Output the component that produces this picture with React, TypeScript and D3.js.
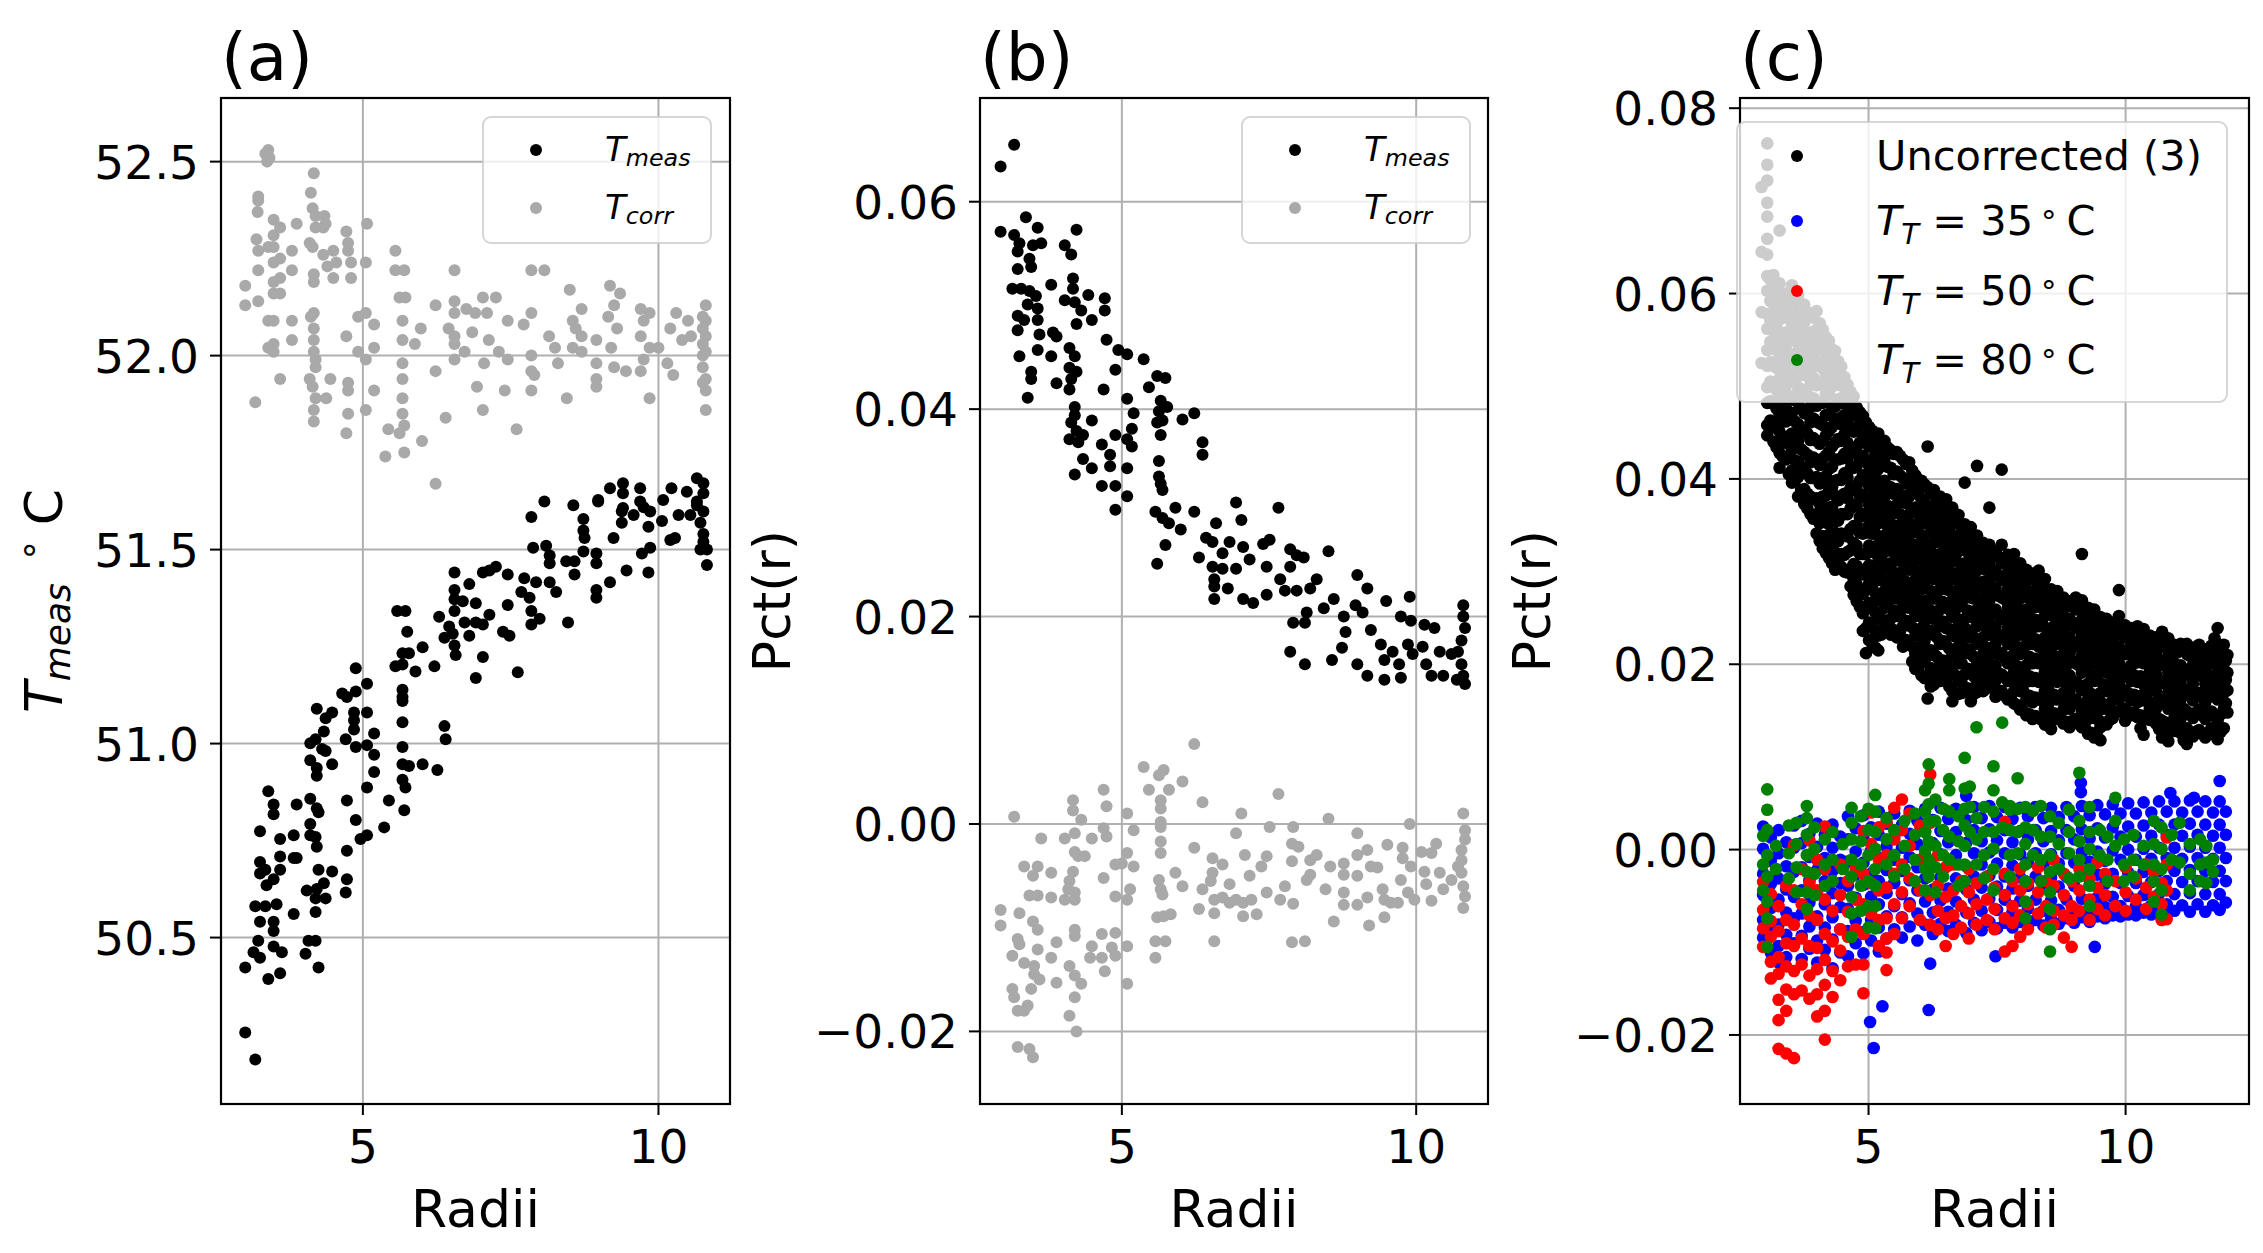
import React from 'react';
import * as d3 from 'd3';

const FONT = '"DejaVu Sans", sans-serif';

// ---------------- data ----------------
// panel (a): temperature vs radius
const tMeas: [number, number][] = [
  [7.85,51.584],[8.07,51.624],[8.56,51.614],[8.98,51.624],[8.73,51.579],[8.73,51.549],[8.75,51.53],[9.38,51.599],[9.38,51.569],[9.58,51.589],
  [9.75,51.609],[9.83,51.559],[10.06,51.574],[10.34,51.589],[10.54,51.589],[10.65,51.614],[10.71,51.569],[10.76,51.54],[10.76,51.52],[10.82,51.5],
  [10.82,51.46],[10.71,51.5],[10.2,51.525],[10.28,51.53],[9.86,51.505],[9.72,51.49],[9.83,51.441],[9.46,51.446],[9.18,51.416],[9.24,51.53],
  [8.95,51.49],[8.95,51.465],[8.73,51.495],[8.95,51.396],[8.95,51.376],[8.58,51.436],[8.44,51.47],[8.58,51.47],[8.16,51.485],[8.16,51.465],
  [8.1,51.51],[7.88,51.505],[8.27,51.391],[8.16,51.416],[7.93,51.416],[7.73,51.426],[7.68,51.391],[7.82,51.376],[7.85,51.342],[7.99,51.322],
  [7.85,51.307],[8.47,51.312],[7.62,51.184],[7.45,51.436],[7.45,51.357],[7.37,51.288],[7.48,51.278],[7.25,51.456],[7.03,51.441],[7.14,51.446],
  [6.8,51.411],[6.91,51.362],[6.91,51.312],[7.03,51.307],[7.14,51.332],[6.8,51.278],[7.03,51.223],[6.91,51.169],[6.55,51.441],[6.55,51.396],
  [6.55,51.372],[6.55,51.342],[6.69,51.367],[6.72,51.312],[6.29,51.327],[6.46,51.302],[6.52,51.283],[6.38,51.273],[6.55,51.253],[6.57,51.228],
  [6.01,51.248],[5.75,51.288],[5.58,51.342],[5.72,51.342],[5.67,51.233],[5.78,51.233],[5.55,51.199],[5.67,51.204],[5.89,51.186],[6.21,51.199],
  [5.67,51.139],[5.67,51.12],[5.67,51.11],[5.67,51.055],[5.67,50.991],[5.67,50.947],[5.78,50.942],[6.01,50.947],[6.26,50.932],[5.67,50.907],
  [5.72,50.887],[5.44,50.853],[5.7,50.828],[5.36,50.784],[6.38,51.045],[6.4,51.011],[4.88,51.194],[5.07,51.154],[4.88,51.134],[4.65,51.129],
  [4.73,51.12],[5.07,51.08],[4.85,51.08],[4.85,51.06],[4.85,51.036],[5.19,51.026],[5.07,50.996],[4.88,50.991],[5.19,50.971],[5.19,50.927],
  [5.07,50.887],[4.71,51.011],[4.48,51.08],[4.37,51.065],[4.22,51.09],[4.34,51.031],[4.2,51.011],[4.11,51.001],[4.31,50.986],[4.37,50.981],
  [4.11,50.957],[4.22,50.937],[4.22,50.917],[4.48,50.947],[4.73,50.853],[4.88,50.803],[4.96,50.754],[5.07,50.764],[4.73,50.724],[3.4,50.877],
  [3.49,50.843],[3.49,50.818],[3.88,50.843],[4.11,50.858],[4.22,50.833],[4.25,50.823],[4.11,50.793],[4.11,50.764],[4.2,50.759],[4.22,50.734],
  [3.26,50.774],[3.6,50.754],[3.83,50.764],[3.6,50.709],[3.83,50.705],[3.88,50.705],[3.26,50.695],[3.35,50.675],[3.6,50.675],[3.49,50.65],
  [3.37,50.635],[3.26,50.665],[4.25,50.675],[4.48,50.67],[4.34,50.64],[4.73,50.65],[4.71,50.616],[4.05,50.621],[4.22,50.625],[4.2,50.601],
  [4.37,50.601],[4.2,50.566],[4.2,50.492],[4.08,50.492],[4.03,50.458],[4.25,50.423],[3.18,50.581],[3.35,50.581],[3.26,50.541],[3.49,50.541],
  [3.49,50.517],[3.54,50.586],[3.83,50.561],[3.23,50.492],[3.49,50.477],[3.63,50.462],[3.15,50.462],[3.26,50.448],[3.01,50.423],[3.4,50.393],
  [3.6,50.408],[3.01,50.255],[3.18,50.186],[8.98,51.628],[9.18,51.658],[9.4,51.671],[9.4,51.645],[9.4,51.607],[9.69,51.658],[9.69,51.624],
  [9.86,51.598],[10.08,51.628],[10.22,51.658],[10.48,51.649],[10.65,51.684],[10.76,51.671],[10.76,51.645],[10.65,51.624],[10.76,51.598],
];

const tCorr: [number, number][] = [
  [3.01,52.18],[3.01,52.13],[3.18,51.88],[3.23,52.41],[3.23,52.4],[3.22,52.37],[3.23,52.27],[3.23,52.22],[3.23,52.14],[3.2,52.3],
  [3.35,52.52],[3.4,52.53],[3.42,52.51],[3.38,52.5],[3.4,52.28],[3.4,52.09],[3.4,52.02],[3.49,52.35],[3.49,52.31],[3.49,52.28],
  [3.49,52.24],[3.49,52.19],[3.49,52.16],[3.49,52.09],[3.49,52.03],[3.49,52.01],[3.6,52.33],[3.6,52.25],[3.6,52.2],[3.6,52.16],
  [3.6,51.94],[3.8,52.27],[3.8,52.22],[3.8,52.09],[3.8,52.04],[3.88,52.34],[4.17,52.47],[4.12,52.42],[4.15,52.38],[4.2,52.36],
  [4.2,52.33],[4.1,52.29],[4.15,52.28],[4.17,52.21],[4.17,52.19],[4.17,52.11],[4.12,52.1],[4.17,52.07],[4.17,52.04],[4.17,52.01],
  [4.2,51.99],[4.2,51.97],[4.1,51.94],[4.15,51.92],[4.2,51.89],[4.17,51.86],[4.17,51.83],[4.35,52.36],[4.37,52.34],[4.33,52.33],
  [4.33,52.26],[4.4,52.23],[4.45,51.94],[4.38,51.89],[4.5,52.27],[4.55,52.24],[4.5,52.2],[4.72,52.32],[4.75,52.29],[4.75,52.27],
  [4.8,52.24],[4.8,52.2],[4.72,52.05],[4.75,51.93],[4.75,51.91],[4.75,51.85],[4.72,51.8],[5.07,52.34],[5.05,52.24],[5.05,52.11],
  [4.92,52.1],[4.92,52.01],[5.05,51.99],[5.05,51.86],[5.19,52.08],[5.19,52.02],[5.19,51.91],[5.43,51.81],[5.38,51.74],[5.55,52.27],
  [5.55,52.22],[5.7,52.22],[5.62,52.15],[5.72,52.15],[5.67,52.09],[5.67,52.04],[5.67,51.98],[5.67,51.94],[5.67,51.89],[5.67,51.85],
  [5.7,51.82],[5.62,51.8],[5.7,51.75],[5.98,52.07],[5.88,52.03],[6.0,51.78],[6.23,52.13],[6.23,51.96],[6.23,51.67],[6.55,52.22],
  [6.55,52.14],[6.55,52.11],[6.45,52.07],[6.55,52.05],[6.55,52.03],[6.55,51.99],[6.4,51.84],[6.75,52.12],[6.9,52.11],[6.85,52.06],
  [6.72,52.01],[6.93,51.92],[7.03,52.15],[7.25,52.15],[7.1,52.11],[7.13,52.04],[7.05,51.98],[7.03,51.86],[7.45,52.09],[7.3,52.01],
  [7.45,51.99],[7.4,51.91],[7.85,52.22],[7.85,52.11],[7.72,52.08],[7.85,52.0],[7.85,51.96],[7.9,51.95],[7.85,51.91],[7.6,51.81],
  [8.07,52.22],[8.15,52.05],[8.25,52.02],[8.3,51.98],[8.5,52.17],[8.7,52.12],[8.55,52.09],[8.6,52.07],[8.7,52.05],[8.55,52.02],
  [8.7,52.01],[8.45,51.89],[8.95,52.04],[8.95,51.98],[8.95,51.94],[8.95,51.92],[9.18,52.18],[9.35,52.16],[9.25,52.13],[9.15,52.1],
  [9.3,52.07],[9.2,52.02],[9.25,51.97],[9.45,51.96],[9.7,52.12],[9.85,52.11],[9.75,52.09],[9.7,52.05],[9.85,52.02],[9.75,51.99],
  [9.7,51.96],[9.85,51.89],[10.3,52.11],[10.2,52.07],[10.0,52.02],[10.15,51.98],[10.25,51.95],[10.5,52.09],[10.55,52.05],[10.4,52.04],
  [10.8,52.13],[10.75,52.1],[10.8,52.09],[10.75,52.07],[10.8,52.05],[10.75,52.03],[10.8,52.01],[10.75,52.0],[10.75,51.97],[10.8,51.94],
  [10.75,51.93],[10.8,51.91],[10.8,51.86],
];

// panel (b): Pct(r) vs radius
const pctMeas: [number, number][] = [
  [2.94,.0634],[3.17,.0655],[2.94,.0571],[3.37,.0585],[3.57,.0575],[3.17,.0568],[3.26,.056],[3.23,.0552],[3.49,.0558],[3.63,.056],
  [3.43,.0545],[3.46,.0537],[3.23,.0535],[3.14,.0516],[3.29,.0516],[3.43,.0514],[3.54,.0509],[3.8,.052],[3.4,.0501],[3.57,.0497],
  [3.23,.049],[3.34,.0486],[3.57,.0486],[3.23,.0476],[3.6,.0472],[3.83,.0474],[3.89,.047],[3.26,.0451],[3.57,.0457],[3.8,.0451],
  [3.46,.0436],[3.46,.0429],[3.89,.0425],[3.4,.0411],[4.23,.0573],[4.03,.0558],[4.14,.0549],[4.17,.0526],[4.17,.0516],[4.03,.0505],
  [4.2,.0503],[4.31,.0495],[4.43,.051],[4.49,.0486],[4.23,.0482],[4.71,.0507],[4.71,.0495],[4.74,.0467],[4.94,.0457],[5.09,.0453],
  [4.11,.0459],[4.2,.0451],[4.11,.044],[4.23,.0436],[4.14,.0429],[4.11,.0419],[4.89,.0438],[4.69,.0419],[5.37,.0448],[5.6,.0432],
  [5.74,.043],[5.46,.0421],[5.66,.0408],[5.77,.0402],[5.63,.0398],[5.69,.0389],[5.09,.041],[5.2,.0396],[4.2,.0402],[4.2,.0394],
  [4.14,.0387],[4.49,.0389],[6.03,.039],[6.23,.0396],[4.23,.0379],[4.11,.0371],[4.34,.0375],[4.26,.0368],[4.66,.0366],[4.89,.0375],
  [5.09,.0371],[5.17,.0381],[5.17,.0364],[4.8,.0356],[4.8,.0345],[4.34,.0352],[4.49,.0343],[5.09,.0343],[4.2,.0337],[4.66,.0326],
  [4.89,.0326],[5.09,.0316],[4.89,.0303],[5.6,.0387],[5.66,.0375],[5.63,.035],[5.63,.0335],[5.66,.0328],[5.69,.0322],[6.37,.0368],
  [6.37,.0356],[5.57,.0301],[5.69,.0295],[5.91,.0305],[5.8,.029],[6.0,.0284],[6.23,.0301],[5.74,.0269],[5.6,.0251],[6.94,.031],
  [7.03,.0293],[7.66,.0305],[6.6,.029],[6.43,.0276],[6.54,.0272],[6.83,.0272],[6.71,.0261],[7.06,.0267],[7.17,.0255],[7.4,.027],
  [7.51,.0274],[6.31,.0257],[6.54,.0248],[6.71,.0246],[6.94,.0246],[7.46,.0248],[6.57,.0236],[6.57,.0229],[6.8,.0227],[6.57,.0217],
  [7.06,.0217],[7.23,.0213],[7.46,.0221],[7.69,.0236],[7.86,.0265],[7.97,.0259],[8.09,.0257],[7.86,.0248],[7.77,.0225],[7.97,.0225],
  [8.2,.0227],[8.31,.0236],[8.51,.0263],[8.14,.0204],[7.91,.0194],[8.11,.0194],[8.43,.0208],[8.6,.0217],[8.77,.02],[9.0,.024],
  [9.17,.0227],[8.97,.0211],[9.09,.0204],[8.8,.0185],[8.74,.017],[9.23,.0187],[9.49,.0215],[9.89,.0219],[9.74,.02],[9.91,.0196],
  [10.14,.0192],[10.31,.0189],[7.86,.0166],[8.11,.0154],[8.57,.0158],[9.0,.0154],[9.17,.0143],[9.4,.0173],[9.46,.0158],[9.46,.0139],
  [9.6,.0166],[9.71,.0154],[9.74,.0141],[9.86,.0173],[9.94,.0164],[10.11,.0171],[10.17,.0154],[10.26,.0143],[10.46,.0143],[10.4,.0166],
  [10.6,.0164],[10.8,.0211],[10.8,.02],[10.83,.0189],[10.77,.0177],[10.71,.0166],[10.77,.0154],[10.8,.0143],[10.83,.0135],[10.69,.0139],
];

const pctCorr: [number, number][] = [
  [3.17,.0007],[2.94,-.0083],[2.94,-.0098],[3.26,-.0086],[3.49,-.0094],[3.57,-.0102],[3.23,-.0111],[3.26,-.0116],[3.14,-.0127],[3.34,-.0134],
  [3.57,-.0121],[3.51,-.0137],[3.51,-.0145],[3.6,-.015],[3.46,-.0159],[3.14,-.0159],[3.17,-.0167],[3.23,-.018],[3.34,-.018],[3.4,-.0175],
  [3.89,-.0114],[3.8,-.0129],[3.89,-.0153],[3.63,-.0014],[3.34,-.0041],[3.57,-.0041],[3.49,-.005],[3.8,-.0047],[3.43,-.0069],[3.57,-.0069],
  [3.8,-.0071],[4.03,-.0073],[4.2,-.0073],[4.17,.0023],[4.17,.0013],[4.31,.0004],[4.03,-.0014],[4.2,-.0009],[4.2,-.0027],[4.26,-.0031],
  [4.37,-.0031],[4.49,-.0014],[4.17,-.0046],[4.11,-.0055],[4.09,-.0063],[4.2,-.0066],[4.69,.0033],[4.74,.0017],[4.69,-.0004],[4.74,-.0012],
  [4.69,-.0052],[4.2,-.0102],[4.2,-.0108],[4.49,-.0118],[4.46,-.0129],[4.66,-.0129],[4.66,-.0106],[4.89,-.0105],[4.83,-.0119],[4.89,-.0127],
  [4.71,-.0142],[4.11,-.0137],[4.2,-.0146],[4.31,-.0154],[4.2,-.0167],[4.11,-.0185],[4.23,-.02],[3.23,-.0215],[3.43,-.0217],[3.49,-.0225],
  [5.09,.001],[5.2,-.0006],[5.09,-.0028],[4.89,-.0039],[5.0,-.0038],[5.2,-.0041],[4.89,-.007],[5.09,-.0073],[5.14,-.0063],[5.09,-.0118],
  [5.09,-.0154],[5.37,.0055],[5.46,.0033],[5.63,.0047],[5.71,.0052],[5.8,.0033],[5.66,.0023],[5.66,.0015],[5.66,.0002],[5.66,-.0003],
  [5.66,-.0017],[5.66,-.0028],[5.63,-.0054],[5.66,-.0063],[5.69,-.0068],[5.91,-.0047],[6.03,-.006],[5.6,-.009],[5.71,-.0089],[5.83,-.0087],
  [5.57,-.0113],[5.74,-.0113],[5.57,-.0129],[6.23,.0077],[6.03,.0041],[6.37,.0021],[6.23,-.0023],[6.54,-.0033],[6.71,-.0039],[6.54,-.0047],
  [6.51,-.0055],[6.37,-.0063],[6.31,-.0082],[6.57,-.0073],[6.57,-.0086],[6.71,-.0071],[6.83,-.0058],[6.94,-.0073],[7.06,-.0076],[7.06,-.0089],
  [6.83,-.0076],[7.2,-.0073],[7.29,-.0087],[6.57,-.0113],[6.94,-.0009],[7.03,.001],[7.09,-.003],[7.17,-.005],[7.37,-.0041],[7.46,-.0031],
  [7.46,-.0066],[7.69,-.0073],[7.77,-.006],[7.91,-.0077],[7.51,-.0003],[7.66,.0029],[7.91,-.0003],[7.89,-.0019],[8.0,-.0022],[7.89,-.0036],
  [8.2,-.0035],[8.31,-.003],[8.14,-.0054],[8.2,-.0049],[8.46,-.0063],[8.54,-.0041],[8.77,-.0038],[8.77,-.0049],[8.77,-.0066],[8.77,-.0078],
  [9.0,-.0009],[9.0,-.003],[9.0,-.005],[9.0,-.0078],[8.51,.0005],[8.6,-.0094],[9.17,-.0025],[9.23,-.0041],[9.34,-.0042],[9.17,-.0071],
  [9.2,-.0098],[7.89,-.0114],[8.11,-.0113],[9.51,-.002],[9.43,-.0063],[9.46,-.0073],[9.46,-.009],[9.57,-.0076],[9.74,-.0054],[9.77,-.0023],
  [9.77,-.0033],[9.91,-.0041],[9.86,-.0066],[9.69,-.0076],[9.89,.0],[9.97,-.0073],[10.09,-.0027],[10.14,-.0046],[10.17,-.0058],[10.26,-.0028],
  [10.34,-.0019],[10.4,-.0047],[10.26,-.0074],[10.46,-.0063],[10.6,-.0054],[10.71,-.0041],[10.8,.001],[10.83,-.0006],[10.83,-.0015],[10.77,-.0025],
  [10.77,-.0035],[10.77,-.0047],[10.8,-.006],[10.83,-.007],[10.8,-.0081],
];

// panel (c): each entry is [radius, Pct(r) values measured at that radius]
const uncorrected: [number, number[]][] = [
  [2.92,[.0715,.0645,.058,.0525]],
  [3.03,[.0762,.0739,.0722,.0698,.0683,.0659,.0642,.0619,.0603,.0578,.0562,.0539,.0522,.0499,.0482,.0458,.0447]],
  [3.15,[.062,.0598,.0581,.0559,.054,.0522,.0499,.0481,.0458,.044]],
  [3.27,[.0668,.0611,.0589,.0572,.0549,.0531,.0508,.0492,.0469,.0451,.0428,.0412]],
  [3.39,[.06,.0582,.0558,.0541,.0519,.05,.0478,.0462,.0439,.0421]],
  [3.51,[.0609,.0589,.0568,.0551,.0528,.0511,.0489,.0471,.0449,.0432,.0409,.0396]],
  [3.63,[.0598,.0579,.0562,.0538,.0521,.0499,.0482,.0459,.0441,.0418,.0402,.0381]],
  [3.75,[.0588,.0569,.0551,.0529,.0512,.0489,.0471,.0452,.0429,.0411,.0389,.0373]],
  [3.87,[.0579,.0558,.0541,.0519,.0502,.0478,.0461,.0442,.0418,.0401,.0381,.0362]],
  [3.99,[.0581,.0561,.0539,.0522,.0501,.0479,.0462,.0441,.0419,.0402,.0379,.0362,.0341]],
  [4.11,[.0561,.0542,.0519,.0501,.0482,.0458,.0441,.0422,.0399,.0381,.0362,.0338,.0325]],
  [4.23,[.0549,.0531,.0508,.0491,.0469,.0452,.0429,.0411,.0391,.0369,.0351,.0332,.0315]],
  [4.35,[.0538,.0519,.0501,.0478,.0462,.0439,.0421,.0398,.0382,.0361,.0339,.0321,.0302]],
  [4.47,[.0521,.0501,.0482,.0459,.0441,.0422,.0399,.0381,.0362,.0341,.0319,.0305]],
  [4.59,[.0502,.0481,.0462,.0439,.0422,.0401,.0379,.0362,.0338,.0321,.0299]],
  [4.71,[.0489,.0469,.0451,.0429,.0412,.0388,.0372,.0349,.0331,.0308,.0292,.0275]],
  [4.83,[.0472,.0458,.0439,.0421,.0398,.0382,.0359,.0342,.0319,.0301,.0279,.0262]],
  [4.95,[.0461,.0441,.0419,.0402,.0379,.0361,.0342,.0319,.0301,.0281,.0262,.0239,.0212]],
  [5.07,[.0452,.0438,.0418,.0399,.0381,.0358,.0341,.0322,.0299,.0282,.0261,.0242,.0222]],
  [5.19,[.0449,.0429,.0411,.0389,.0371,.0352,.0329,.0311,.0291,.0269,.0252,.0231,.0215]],
  [5.31,[.0441,.0422,.0398,.0381,.0362,.0339,.0321,.0302,.0279,.0261,.0242]],
  [5.43,[.0431,.0412,.0391,.0369,.0352,.0331,.0309,.0291,.0272,.0249,.0232]],
  [5.55,[.0429,.0408,.0389,.0372,.0349,.0331,.0312,.0289,.0271,.0252,.0229]],
  [5.67,[.0421,.0401,.0382,.0359,.0341,.0322,.0301,.0279,.0262,.0241,.0219]],
  [5.79,[.0418,.0399,.0381,.0362,.0339,.0321,.0302,.0278,.0261,.0242,.0221]],
  [5.91,[.0404,.0389,.0369,.0351,.0329,.0312,.0291,.0269,.0252,.0231,.0211,.0195]],
  [6.03,[.0398,.0378,.0361,.0339,.0322,.0299,.0281,.0262,.0239,.0221,.0202,.0188]],
  [6.15,[.0435,.0391,.0371,.0352,.0329,.0311,.0292,.0269,.0251,.0232,.0209,.0188,.0163]],
  [6.27,[.0388,.0369,.0348,.0331,.0309,.0292,.0271,.0249,.0232,.0211,.0192,.0178]],
  [6.39,[.0381,.0362,.0341,.0319,.0302,.0281,.0259,.0241,.0222,.0199,.0182]],
  [6.51,[.0378,.0358,.0339,.0321,.0298,.0281,.0262,.0239,.0221,.0201,.0185]],
  [6.63,[.0369,.0351,.0329,.0311,.0292,.0269,.0251,.0232,.0209,.0191,.0171,.016]],
  [6.75,[.0361,.0339,.0322,.0299,.0281,.0262,.0241,.0219,.0201,.0182,.0168]],
  [6.87,[.0396,.0351,.0331,.0309,.0291,.0272,.0249,.0231,.0212,.0189,.0171]],
  [6.99,[.0348,.0329,.0311,.0289,.0272,.0251,.0229,.0211,.0192,.0171,.016]],
  [7.11,[.0414,.0339,.0319,.0301,.0282,.0259,.0241,.0222,.0199,.0181,.017]],
  [7.23,[.0331,.0312,.0289,.0271,.0252,.0229,.0211,.0192,.0171]],
  [7.35,[.0369,.0329,.0309,.0291,.0269,.0251,.0232,.0209,.0191]],
  [7.47,[.0322,.0301,.0282,.0259,.0241,.0222,.0199,.0182,.0165]],
  [7.59,[.041,.0329,.0309,.0291,.0272,.0249,.0231,.0212,.0189,.0171]],
  [7.71,[.0318,.0299,.0281,.0261,.0239,.0222,.0201,.0182,.0162]],
  [7.83,[.0319,.0291,.0271,.0252,.0229,.0211,.0192,.0171,.0158]],
  [7.95,[.0309,.0289,.0271,.0249,.0232,.0211,.0189,.0171,.0151]],
  [8.07,[.0302,.0281,.0259,.0242,.0221,.0199,.0181,.0162,.0145]],
  [8.19,[.0298,.0278,.0261,.0239,.0222,.0201,.0182,.0159,.0141]],
  [8.31,[.0301,.0279,.0262,.0241,.0219,.0201,.0181,.0162,.0142]],
  [8.43,[.0292,.0271,.0252,.0229,.0211,.0192,.0171,.0152,.0135]],
  [8.55,[.0281,.0262,.0239,.0221,.0202,.0181,.0161,.0142,.013]],
  [8.67,[.0279,.0258,.0241,.0222,.0199,.0181,.0162,.0141]],
  [8.79,[.0272,.0251,.0232,.0211,.0192,.0169,.0151,.0136]],
  [8.91,[.0268,.0249,.0229,.0211,.0188,.0171,.0152,.0132]],
  [9.03,[.0272,.0259,.0239,.0219,.0201,.0181,.0162,.0141]],
  [9.15,[.0319,.0269,.0248,.0231,.0209,.0191,.0172,.0149,.0132]],
  [9.27,[.0261,.0242,.0221,.0202,.0179,.0162,.0141,.0125]],
  [9.39,[.0259,.0238,.0219,.0201,.0182,.0159,.0142,.0121]],
  [9.51,[.0251,.0232,.0211,.0192,.0169,.0151,.0132,.0118]],
  [9.63,[.0249,.0228,.0209,.0191,.0171,.0152,.0135]],
  [9.75,[.0241,.0222,.0201,.0182,.0161,.0142]],
  [9.87,[.028,.0252,.0239,.0219,.0201,.0181,.0162,.0149]],
  [9.99,[.0242,.0229,.0211,.0189,.0171,.0152,.0139]],
  [10.11,[.0239,.0221,.0199,.0182,.0161,.0145]],
  [10.23,[.0241,.0219,.0202,.0181,.0159,.0143]],
  [10.35,[.0238,.0219,.0201,.0178,.0161,.0141,.0124]],
  [10.47,[.0231,.0211,.0192,.0171,.0152,.014]],
  [10.59,[.0229,.0212,.0189,.0171,.0152,.0136]],
  [10.71,[.0235,.0219,.0199,.0181,.0161,.0139,.0121]],
  [10.83,[.0228,.0209,.0191,.0169,.0152,.0132,.0117]],
  [10.95,[.0221,.0201,.0182,.0161,.0142,.0128]],
  [11.07,[.0222,.0199,.0181,.0162,.0141,.0126]],
  [11.19,[.0222,.0211,.0192,.0171,.0149,.0131,.0114]],
  [11.31,[.0218,.0199,.0179,.0161,.0142,.0122]],
  [11.43,[.0221,.0202,.0189,.0169,.0151,.0129]],
  [11.55,[.0216,.0198,.0179,.0159,.0141,.0121]],
  [11.67,[.022,.0201,.0182,.0171,.0149,.0131]],
  [11.79,[.0239,.0222,.0199,.0181,.0162,.0139,.0119]],
  [11.91,[.0221,.0201,.0189,.0169,.0152,.0131]],
  [11.98,[.021,.0191,.0172,.0148]],
];

// radii between the columns above (the cloud is measured on a finer radius grid)
const uncorrectedMid: [number, number[]][] = [
  [3.09,[.0615,.0592,.0571,.0548,.0526,.0505,.0484,.0463]],
  [3.21,[.0605,.0584,.0563,.0543,.052,.0496,.0476,.0455,.0434]],
  [3.33,[.0595,.0574,.0553,.0531,.0509,.0487,.0466,.0445,.0424]],
  [3.45,[.0596,.0574,.0555,.0533,.0513,.0488,.0468,.0446,.0425,.0405]],
  [3.57,[.0593,.0571,.0549,.0527,.0505,.0485,.0462,.0441,.042,.0398]],
  [3.69,[.0584,.056,.0539,.0518,.0496,.0476,.0453,.0432,.041,.0388]],
  [3.81,[.0576,.0555,.0534,.0512,.0491,.047,.0449,.0426,.0406,.0384,.0368]],
  [3.93,[.0574,.0552,.0531,.0509,.0487,.0465,.0444,.0423,.0401,.0378,.0357]],
  [4.05,[.0568,.0546,.0525,.0503,.0482,.046,.0438,.0415,.0395,.0373,.0352,.0333]],
  [4.17,[.0553,.0534,.0512,.0491,.0469,.0447,.0425,.0403,.0382,.0361,.0338,.032]],
  [4.29,[.054,.0522,.05,.0478,.0456,.0435,.0413,.0391,.037,.0347,.0327,.0309]],
  [4.41,[.0527,.0507,.0486,.0465,.0443,.0421,.0399,.0377,.0355,.0333,.0312]],
  [4.53,[.051,.049,.0469,.0448,.0427,.0406,.0384,.0362,.034,.0318,.03]],
  [4.65,[.0494,.0474,.0453,.0432,.0411,.039,.0368,.0346,.0323,.0303,.0284]],
  [4.77,[.0477,.0456,.0435,.0414,.0393,.0371,.035,.0328,.0306,.0286,.0268]],
  [4.89,[.0468,.0446,.0425,.0404,.0383,.0362,.0341,.0319,.0297,.0276,.0255,.0236]],
  [5.01,[.0456,.0435,.0414,.0393,.0372,.035,.0328,.0307,.0287,.0266,.0245,.0226]],
  [5.13,[.0447,.0426,.0405,.0384,.0362,.0341,.032,.0299,.0277,.0256,.0236,.0218]],
  [5.25,[.0439,.0418,.0396,.0375,.0354,.0333,.0312,.0291,.0269,.0249,.0232]],
  [5.37,[.0434,.0413,.0392,.0371,.0349,.0328,.0307,.0286,.0265,.0245]],
  [5.49,[.0427,.0405,.0384,.0363,.0342,.0321,.0299,.0278,.0258,.0237]],
  [5.61,[.0425,.0404,.0383,.0362,.0341,.032,.0298,.0277,.0256,.0235]],
  [5.73,[.0416,.0395,.0374,.0353,.0332,.0311,.0289,.0268,.0247,.0226]],
  [5.85,[.0409,.0388,.0367,.0346,.0325,.0304,.0283,.0261,.024,.0219,.0203]],
  [5.97,[.0399,.0384,.0363,.0342,.0321,.03,.0279,.0257,.0236,.0215,.0196]],
  [6.09,[.0394,.0373,.0352,.0331,.031,.0289,.0268,.0246,.0225,.0204,.0185]],
  [6.21,[.0384,.0363,.0342,.0321,.03,.0279,.0258,.0236,.0215,.0196,.0176]],
  [6.33,[.0376,.0355,.0334,.0313,.0292,.0271,.025,.0229,.0208,.0188]],
  [6.45,[.0372,.0351,.033,.0309,.0288,.0267,.0246,.0225,.0204,.0188]],
  [6.57,[.0364,.0343,.0322,.0301,.028,.0259,.0238,.0217,.0196,.0176]],
  [6.69,[.0356,.0335,.0314,.0293,.0272,.0251,.023,.0209,.0188,.0168]],
  [6.81,[.0348,.0327,.0306,.0285,.0264,.0243,.0222,.0201,.018,.0169]],
  [6.93,[.0342,.0321,.03,.0279,.0258,.0237,.0216,.0195,.0174]],
  [7.05,[.0334,.0313,.0292,.0271,.025,.0229,.0208,.0187,.0168]],
  [7.17,[.0328,.0307,.0286,.0265,.0244,.0223,.0202,.0181]],
  [7.29,[.0323,.0302,.0281,.026,.0239,.0218,.0197,.0182]],
  [7.41,[.0318,.0297,.0276,.0255,.0234,.0213,.0192,.0174]],
  [7.53,[.0316,.0295,.0274,.0253,.0232,.0211,.019,.0171]],
  [7.65,[.0312,.0291,.027,.0249,.0228,.0207,.0186,.0166]],
  [7.77,[.0309,.0288,.0267,.0246,.0225,.0204,.0183,.0163]],
  [7.89,[.0303,.0282,.0261,.024,.0219,.0198,.0177,.0156]],
  [8.01,[.0297,.0276,.0255,.0234,.0213,.0192,.0171,.015]],
  [8.13,[.0292,.0271,.025,.0229,.0208,.0187,.0166,.0146]],
  [8.25,[.029,.0269,.0248,.0227,.0206,.0185,.0164,.0144]],
  [8.37,[.0287,.0266,.0245,.0224,.0203,.0182,.0161,.014]],
  [8.49,[.0279,.0258,.0237,.0216,.0195,.0174,.0153,.0134]],
  [8.61,[.0272,.0251,.023,.0209,.0188,.0167,.0147]],
  [8.73,[.0268,.0247,.0226,.0205,.0184,.0163,.0142]],
  [8.85,[.0262,.0241,.022,.0199,.0178,.0157,.0138]],
  [8.97,[.0263,.0245,.0224,.0203,.0182,.0161,.0139]],
  [9.09,[.0262,.0241,.022,.0199,.0178,.0157,.0136]],
  [9.21,[.0257,.0236,.0215,.0194,.0173,.0152,.0131]],
  [9.33,[.0252,.0231,.021,.0189,.0168,.0147,.0126]],
  [9.45,[.0246,.0225,.0204,.0183,.0162,.0141,.0122]],
  [9.57,[.0241,.022,.0199,.0178,.0157,.0137]],
  [9.69,[.0238,.0217,.0196,.0175,.0154,.014]],
  [9.81,[.0246,.0231,.021,.0189,.0168,.0148]],
  [9.93,[.0236,.0215,.0194,.0173,.0152]],
  [10.05,[.0232,.0211,.019,.0169,.0148]],
  [10.17,[.023,.0209,.0188,.0167,.0148]],
  [10.29,[.0229,.0208,.0187,.0166,.0145,.0131]],
  [10.41,[.0224,.0203,.0182,.0161,.0141]],
  [10.53,[.0221,.02,.0179,.0158,.014]],
  [10.65,[.0225,.0204,.0183,.0162,.0141,.013]],
  [10.77,[.0221,.02,.0179,.0158,.0137,.0122]],
  [10.89,[.0216,.0195,.0174,.0153,.0132]],
  [11.01,[.0213,.0192,.0171,.015,.013]],
  [11.13,[.0215,.0194,.0173,.0152,.0131,.0118]],
  [11.25,[.0209,.0188,.0167,.0146,.0126]],
  [11.37,[.0211,.019,.0169,.0148,.0127]],
  [11.49,[.0208,.0187,.0166,.0145,.0125]],
  [11.61,[.021,.0189,.0168,.0147,.0126]],
  [11.73,[.0228,.0209,.0188,.0165,.0144,.0124]],
  [11.85,[.0212,.0191,.0172,.0146,.0127]],
  [11.95,[.0204,.0183,.0158]],
];

const tt35: [number, number[]][] = [
  [2.95,[.0025,.0001,-.0026,-.0049,-.0076,-.0095]],
  [3.1,[.0013,-.0012,-.0037,-.0063,-.0087,-.0111]],
  [3.25,[.0021,-.0004,-.0031,-.0054,-.0081,-.0104,-.0122]],
  [3.4,[.0008,-.0018,-.0043,-.0068,-.0092,-.0116]],
  [3.55,[.0026,.0002,-.0024,-.0051,-.0074,-.0101]],
  [3.7,[.0031,.0007,-.0019,-.0044,-.0069,-.0093,-.0118]],
  [3.85,[.0017,-.0008,-.0033,-.0057,-.0083,-.0107]],
  [4.0,[.0028,.0003,-.0022,-.0048,-.0072,-.0098,-.0122]],
  [4.15,[.0016,-.0009,-.0034,-.0059,-.0084,-.0108]],
  [4.3,[.0027,.0002,-.0023,-.0047,-.0073,-.0097,-.0128]],
  [4.45,[.0014,-.0011,-.0036,-.0062,-.0086,-.0111]],
  [4.6,[.0036,.0011,-.0013,-.0039,-.0064,-.0088,-.0115]],
  [4.75,[.0023,-.0002,-.0027,-.0052,-.0077,-.0101]],
  [4.9,[.0037,.0012,-.0014,-.0038,-.0063,-.0089,-.0112]],
  [5.03,[-.0186]],
  [5.05,[.0024,-.0001,-.0026,-.0051,-.0076,-.0098]],
  [5.1,[-.0214]],
  [5.2,[.0041,.0016,-.0009,-.0034,-.0059,-.0084,-.011]],
  [5.27,[-.0169]],
  [5.35,[.0028,.0003,-.0022,-.0047,-.0072,-.0096]],
  [5.5,[.0039,.0014,-.0011,-.0036,-.0061,-.0086]],
  [5.65,[.0027,.0002,-.0023,-.0048,-.0073,-.0095]],
  [5.8,[.0042,.0017,-.0008,-.0033,-.0058,-.0083]],
  [5.95,[.0031,.0006,-.0019,-.0044,-.0069,-.0098]],
  [6.1,[.0044,.0019,-.0006,-.0031,-.0056,-.0081]],
  [6.17,[-.0173]],
  [6.2,[-.0123]],
  [6.25,[.0032,.0007,-.0018,-.0043,-.0068,-.0091]],
  [6.4,[.0045,.002,-.0005,-.003,-.0055,-.008]],
  [6.55,[.0033,.0008,-.0017,-.0042,-.0067,-.0088]],
  [6.7,[.0044,.0019,-.0006,-.0031,-.0056,-.0081]],
  [6.9,[.0058,.0032,.0007,-.0018,-.0043,-.0068,-.009]],
  [7.05,[.0046,.0021,-.0004,-.0029,-.0054,-.0079]],
  [7.2,[.0034,.0009,-.0016,-.0041,-.0066,-.0087]],
  [7.35,[.0047,.0022,-.0003,-.0028,-.0053,-.0078]],
  [7.47,[-.0115]],
  [7.5,[.0035,.001,-.0015,-.004,-.0065,-.0085]],
  [7.65,[.0046,.0021,-.0004,-.0029,-.0054,-.0079]],
  [7.8,[.0033,.0008,-.0017,-.0042,-.0067,-.0084]],
  [7.95,[.0045,.002,-.0005,-.003,-.0055,-.0078]],
  [8.1,[.0036,.0011,-.0014,-.0039,-.0064,-.0083]],
  [8.25,[.0046,.0021,-.0004,-.0029,-.0054,-.0076]],
  [8.4,[.0034,.0009,-.0016,-.0041,-.0066,-.0082]],
  [8.55,[.0045,.002,-.0005,-.003,-.0055,-.0075]],
  [8.7,[.0035,.001,-.0015,-.004,-.0065,-.008]],
  [8.85,[.0046,.0021,-.0004,-.0029,-.0054,-.0074]],
  [9.0,[.0036,.0011,-.0014,-.0039,-.0064,-.0079]],
  [9.13,[.0072,.0062]],
  [9.15,[.0047,.0022,-.0003,-.0028,-.0053,-.0073]],
  [9.3,[.0037,.0012,-.0013,-.0038,-.0063,-.0078]],
  [9.4,[-.0105]],
  [9.45,[.0048,.0023,-.0002,-.0027,-.0052,-.0072]],
  [9.6,[.0038,.0013,-.0012,-.0037,-.0062,-.0074]],
  [9.75,[.0049,.0024,-.0001,-.0026,-.0051,-.0071]],
  [9.9,[.0039,.0014,-.0011,-.0036,-.0061,-.0072]],
  [10.05,[.005,.0025,0,-.0025,-.005,-.007]],
  [10.2,[.0039,.0014,-.0011,-.0036,-.0061,-.0071]],
  [10.35,[.0051,.0026,.0001,-.0024,-.0049,-.0068]],
  [10.5,[.004,.0015,-.001,-.0035,-.006,-.007]],
  [10.65,[.0052,.0027,.0002,-.0023,-.0048,-.0069]],
  [10.8,[.0041,.0016,-.0009,-.0034,-.0059,-.0068]],
  [10.87,[.0061]],
  [10.95,[.0052,.0027,.0002,-.0023,-.0048,-.0066]],
  [11.1,[.004,.0015,-.001,-.0035,-.006]],
  [11.25,[.0053,.0028,.0003,-.0022,-.0047,-.0067]],
  [11.33,[.0056]],
  [11.4,[.0041,.0016,-.0009,-.0034,-.0059]],
  [11.55,[.0052,.0027,.0002,-.0023,-.0048,-.0067]],
  [11.7,[.004,.0015,-.001,-.0035,-.006]],
  [11.83,[.0074,.0052,.0027,.0002,-.0023,-.0048,-.0065]],
  [11.95,[.0041,.0016,-.0009,-.0034,-.0057]],
];

const tt50: [number, number[]][] = [
  [2.95,[-.0035,-.0065,-.0085,-.0105]],
  [3.1,[-.0048,-.0077,-.0094,-.0121,-.0139]],
  [3.25,[-.0061,-.0088,-.0116,-.0134,-.0162,-.0184,-.0215]],
  [3.4,[-.0039,-.0076,-.0101,-.0126,-.0151,-.0174,-.022]],
  [3.55,[.0005,-.0044,-.0081,-.0104,-.0131,-.0156,-.0225]],
  [3.7,[-.0021,-.0059,-.0096,-.0124,-.0152]],
  [3.85,[.001,-.0036,-.0071,-.0104,-.0136,-.0161]],
  [4.0,[-.0011,-.0044,-.0076,-.0106,-.0129,-.0156,-.018]],
  [4.15,[.0025,-.0021,-.0054,-.0091,-.0119,-.0146,-.0174,-.0205]],
  [4.3,[-.0034,-.0066,-.0099,-.0131,-.0159]],
  [4.45,[-.0016,-.0049,-.0086,-.0109,-.0141]],
  [4.6,[-.0034,-.0067,-.0094,-.0126]],
  [4.75,[-.0021,-.0054,-.0086,-.0124]],
  [4.9,[.002,-.0026,-.0059,-.0091,-.0124,-.0155]],
  [5.05,[.004,.0006,-.0036,-.0069]],
  [5.2,[.0024,-.0011,-.0044,-.0076,-.0104]],
  [5.35,[.003,-.0006,-.0041,-.0074,-.0096,-.0111,-.013]],
  [5.5,[.0045,.0011,-.0026,-.0059,-.0091]],
  [5.65,[.0054,.0021,-.0016,-.0046,-.0074]],
  [5.8,[.0039,.0004,-.0031,-.0061]],
  [6.0,[.0026,-.0011,-.0044,-.0076]],
  [6.2,[.0081,.0029,-.0016,-.0049,-.0081]],
  [6.35,[-.0006,-.0039,-.0066,-.0086]],
  [6.5,[-.0019,-.0051,-.0074,-.0104]],
  [6.65,[-.0016,-.0044,-.0071,-.0091]],
  [6.8,[-.0034,-.0061,-.0084]],
  [6.95,[-.0021,-.0046,-.0069,-.0096]],
  [7.1,[-.0036,-.0059,-.0081]],
  [7.3,[-.0029,-.0054,-.0076]],
  [7.45,[-.0041,-.0064,-.0086]],
  [7.65,[.003,-.0026,-.0049,-.0074,-.011]],
  [7.8,[-.0034,-.0061,-.0079,-.0104]],
  [7.95,[-.0021,-.0044,-.0071,-.0094]],
  [8.1,[-.0036,-.0059,-.0086]],
  [8.3,[-.0019,-.0046,-.0069]],
  [8.45,[-.0034,-.0061,-.0084]],
  [8.6,[-.0011,-.0039,-.0066,-.0081]],
  [8.8,[-.0026,-.0049,-.0071,-.0095]],
  [8.95,[-.0034,-.0061,-.0076,-.0105]],
  [9.1,[-.0021,-.0044,-.0066]],
  [9.3,[-.0031,-.0054,-.0076]],
  [9.45,[-.0014,-.0041,-.0064]],
  [9.6,[-.0026,-.0049,-.0071]],
  [9.8,[-.0034,-.0061]],
  [10.0,[-.0019,-.0046,-.0066]],
  [10.2,[-.0031,-.0054]],
  [10.4,[-.0016,-.0041,-.0064]],
  [10.55,[-.0024,-.0051]],
  [10.7,[-.0036,-.0059,-.0076]],
  [10.8,[.0013,-.0016,-.0044,-.0075]],
];

const tt80: [number, number[]][] = [
  [2.95,[.0015,-.0016,-.0044]],
  [3.03,[.0065,.0043,.0021,-.0006,-.0029,-.0056,-.0074,-.0105]],
  [3.2,[.0004,-.0021]],
  [3.45,[.0026,-.0004,-.0031]],
  [3.6,[.0029,.0006,-.0019,-.0046]],
  [3.8,[.0047,.0034,.0016,-.0006,-.0024,-.0046,-.0064]],
  [3.95,[.0024,.0001,-.0026,-.0049]],
  [4.15,[.0011,-.0016,-.0039]],
  [4.3,[.0019,-.0011,-.0034]],
  [4.5,[.0006,-.0021]],
  [4.67,[.0045,.0029,.0011,-.0011,-.0029,-.0051,-.0069,-.0094]],
  [4.85,[.0036,.0009,-.0016,-.0039,-.0066]],
  [5.0,[.0044,.0021,-.0006,-.0034,-.0061,-.0084]],
  [5.13,[.0059,.0041,.0019,.0001,-.0021,-.0039,-.0061,-.0085]],
  [5.35,[.0034,.0011,-.0016]],
  [5.5,[.0021,-.0006,-.0029]],
  [5.7,[.0031,.0004,-.0021]],
  [5.9,[.0039,.0016,-.0011,-.0034]],
  [6.1,[.0064,.0041,.0019,-.0001,-.0021,-.0044]],
  [6.17,[.0092,.0071,.0049,.0031,.0009,-.0011,-.0029]],
  [6.3,[.0054,.0031,.0004,-.0019,-.0046]],
  [6.45,[.0044,.0021,-.0006,-.0029]],
  [6.57,[.0076,.0064,.0041,.0014,-.0011]],
  [6.75,[.0036,.0009,-.0016,-.0039]],
  [6.87,[.0099,.0066,.0044,.0026,.0004,-.0016,-.0034]],
  [6.97,[.0068,.0046,.0019]],
  [7.1,[.0132,.0034,.0011,-.0016]],
  [7.25,[.0046,.0019,-.0006,-.0031]],
  [7.43,[.009,.0064,.0041,.0019,.0001,-.0021,-.0044]],
  [7.6,[.0137,.0051,.0024]],
  [7.75,[.0043,.0047,.0021,-.0006,-.0029]],
  [7.9,[.0077,.0044,.0019,-.0004]],
  [8.05,[.0046,.0024,.0006,-.0016,-.0034,-.0056,-.0074]],
  [8.2,[.0042,.0021,-.0006]],
  [8.35,[.0047,.0014,-.0011,-.0034]],
  [8.53,[.0036,.0014,-.0006,-.0024,-.0046,-.0064,-.0086,-.011]],
  [8.7,[.0029,.0006,-.0021]],
  [8.9,[.0043,.0019,-.0004,-.0031]],
  [9.1,[.0083,.0031,.0009,-.0011,-.0029]],
  [9.3,[.0046,.0019,.0001,-.0021,-.0039,-.0061]],
  [9.5,[.0021,-.0006]],
  [9.65,[.0014,-.0011,-.0034]],
  [9.8,[.0056,.0031,.0004]],
  [9.97,[.0011,-.0016,-.0034]],
  [10.15,[.0016,-.0011,-.0029]],
  [10.35,[.0004,-.0016]],
  [10.55,[.0031,.0006,-.0016,-.0034,-.0056]],
  [10.7,[.0024,.0001,-.0021,-.0044,-.007]],
  [10.9,[.0016,-.0011]],
  [11.05,[.0029,-.0014]],
  [11.25,[.0006,-.0026,-.0044]],
  [11.45,[.0011,-.0016,-.0034]],
  [11.57,[.0004,-.0014,-.0036]],
  [11.7,[-.0011,-.0024]],
];

const xTicks = [5, 10];
const tempTicks = [50.5, 51.0, 51.5, 52.0, 52.5];
const pctTicksB = [-0.02, 0.0, 0.02, 0.04, 0.06];
const pctTicksC = [-0.02, 0.0, 0.02, 0.04, 0.06, 0.08];

const flat = (cols: [number, number[]][]) =>
  cols.flatMap(([r, ys]) => ys.map((v) => [r, v] as [number, number]));

// ---------------- drawing ----------------
const TOP = 98;
const BOTTOM = 1104;
const DOT = 6;
const DOT_C = 6.3;
const GRID = '#b0b0b0';

const TMeasLabel = ({ sub }: { sub: string }) => (
  <>
    <tspan fontStyle="italic">T</tspan>
    <tspan fontStyle="italic" fontSize="0.7em" dy={5}>{sub}</tspan>
  </>
);

const TTLabel = ({ deg }: { deg: string }) => (
  <>
    <tspan fontStyle="italic">T</tspan>
    <tspan fontStyle="italic" fontSize={29} dy={9}>T</tspan>
    <tspan dy={-9}>{` = ${deg}`}</tspan>
    <tspan fontSize={31} dx={8} dy={-3}>°</tspan>
    <tspan dx={10} dy={3}>C</tspan>
  </>
);

function Legend({ x, y, w, h, markerX, textX, fontSize, rows }: any) {
  return (
    <g>
      <rect x={x} y={y} width={w} height={h} rx={8} fill="#fff" fillOpacity={0.8} stroke="#cccccc" strokeOpacity={0.8} strokeWidth={2} />
      {rows.map((r: any, i: number) => (
        <g key={i}>
          <circle cx={markerX} cy={r.cy} r={DOT} fill={r.color} />
          <text x={textX} y={r.cy + fontSize * 0.33} fontSize={fontSize}>{r.label}</text>
        </g>
      ))}
    </g>
  );
}

function Panel(p: any) {
  const x = d3.scaleLinear().domain(p.xDomain).range([p.left, p.right]);
  const y = d3.scaleLinear().domain(p.yDomain).range([BOTTOM, TOP]);
  const mid = (p.left + p.right) / 2;
  const r = p.dot ?? DOT;
  return (
    <g>
      {xTicks.map((t) => (
        <line key={'gx' + t} x1={x(t)} x2={x(t)} y1={TOP} y2={BOTTOM} stroke={GRID} strokeWidth={2} />
      ))}
      {p.yTicks.map((t: number) => (
        <line key={'gy' + t} x1={p.left} x2={p.right} y1={y(t)} y2={y(t)} stroke={GRID} strokeWidth={2} />
      ))}
      {p.series.map((s: any, si: number) => (
        <g key={si} fill={s.color}>
          {s.pts.map(([a, b]: [number, number], i: number) => (
            <circle key={i} cx={x(a)} cy={y(b)} r={r} />
          ))}
        </g>
      ))}
      <rect x={p.left} y={TOP} width={p.right - p.left} height={BOTTOM - TOP} fill="none" stroke="#000" strokeWidth={2.2} />
      {xTicks.map((t) => (
        <g key={'tx' + t}>
          <line x1={x(t)} x2={x(t)} y1={BOTTOM} y2={BOTTOM + 11} stroke="#000" strokeWidth={2} />
          <text x={x(t)} y={1163} fontSize={47} textAnchor="middle">{t}</text>
        </g>
      ))}
      {p.yTicks.map((t: number) => (
        <g key={'ty' + t}>
          <line x1={p.left - 11} x2={p.left} y1={y(t)} y2={y(t)} stroke="#000" strokeWidth={2} />
          <text x={p.left - 22} y={y(t) + 17} fontSize={47} textAnchor="end">{p.yFmt(t)}</text>
        </g>
      ))}
      <text x={p.left} y={80} fontSize={66}>{p.title}</text>
      <text x={mid} y={1227} fontSize={52} textAnchor="middle">Radii</text>
      <text transform={`translate(${p.ylabelX},601) rotate(-90)`} fontSize={52} textAnchor="middle">{p.ylabel}</text>
      <Legend {...p.legend} />
    </g>
  );
}

export default function App() {
  const fmt1 = d3.format('.1f');
  const fmt2 = d3.format('.2f');
  const abLegend = (left: number) => ({
    x: left + 262, y: 117, w: 228, h: 126, markerX: left + 315, textX: left + 384, fontSize: 34,
    rows: [
      { cy: 150, color: '#000', label: <TMeasLabel sub="meas" /> },
      { cy: 208, color: '#a9a9a9', label: <TMeasLabel sub="corr" /> },
    ],
  });
  return (
    <svg width={2263} height={1253} style={{ position: 'absolute', left: 0, top: 0, background: '#fff' }} fontFamily={FONT}>
      <rect width={2263} height={1253} fill="#fff" />
      <Panel
        left={221} right={730} xDomain={[2.6, 11.21]} yDomain={[50.071, 52.664]}
        yTicks={tempTicks} yFmt={fmt1} title="(a)" ylabelX={62}
        ylabel={<>
          <tspan fontStyle="italic">T</tspan>
          <tspan fontStyle="italic" fontSize={36} dy={8}>meas</tspan>
          <tspan fontSize={36} dx={24} dy={-20}>°</tspan>
          <tspan dx={16} dy={12}>C</tspan>
        </>}
        series={[{ pts: tMeas, color: '#000' }, { pts: tCorr, color: '#a9a9a9' }]}
        legend={abLegend(221)}
      />
      <Panel
        left={980} right={1488} xDomain={[2.59, 11.22]} yDomain={[-0.027, 0.07]}
        yTicks={pctTicksB} yFmt={fmt2} title="(b)" ylabelX={790} ylabel="Pct(r)"
        series={[{ pts: pctMeas, color: '#000' }, { pts: pctCorr, color: '#a9a9a9' }]}
        legend={abLegend(980)}
      />
      <Panel
        left={1740} right={2249} xDomain={[2.5, 12.4]} yDomain={[-0.02745, 0.0811]}
        yTicks={pctTicksC} yFmt={fmt2} title="(c)" ylabelX={1550} ylabel="Pct(r)" dot={DOT_C}
        series={[
          { pts: [...flat(uncorrected), ...flat(uncorrectedMid)], color: '#000' },
          { pts: flat(tt35), color: '#0000ff' },
          { pts: flat(tt50), color: '#ff0000' },
          { pts: flat(tt80), color: '#008000' },
        ]}
        legend={{
          x: 1737, y: 122, w: 490, h: 280, markerX: 1797, textX: 1876, fontSize: 41.5,
          rows: [
            { cy: 156, color: '#000', label: 'Uncorrected (3)' },
            { cy: 221, color: '#0000ff', label: <TTLabel deg="35" /> },
            { cy: 291, color: '#ff0000', label: <TTLabel deg="50" /> },
            { cy: 360, color: '#008000', label: <TTLabel deg="80" /> },
          ],
        }}
      />
    </svg>
  );
}
